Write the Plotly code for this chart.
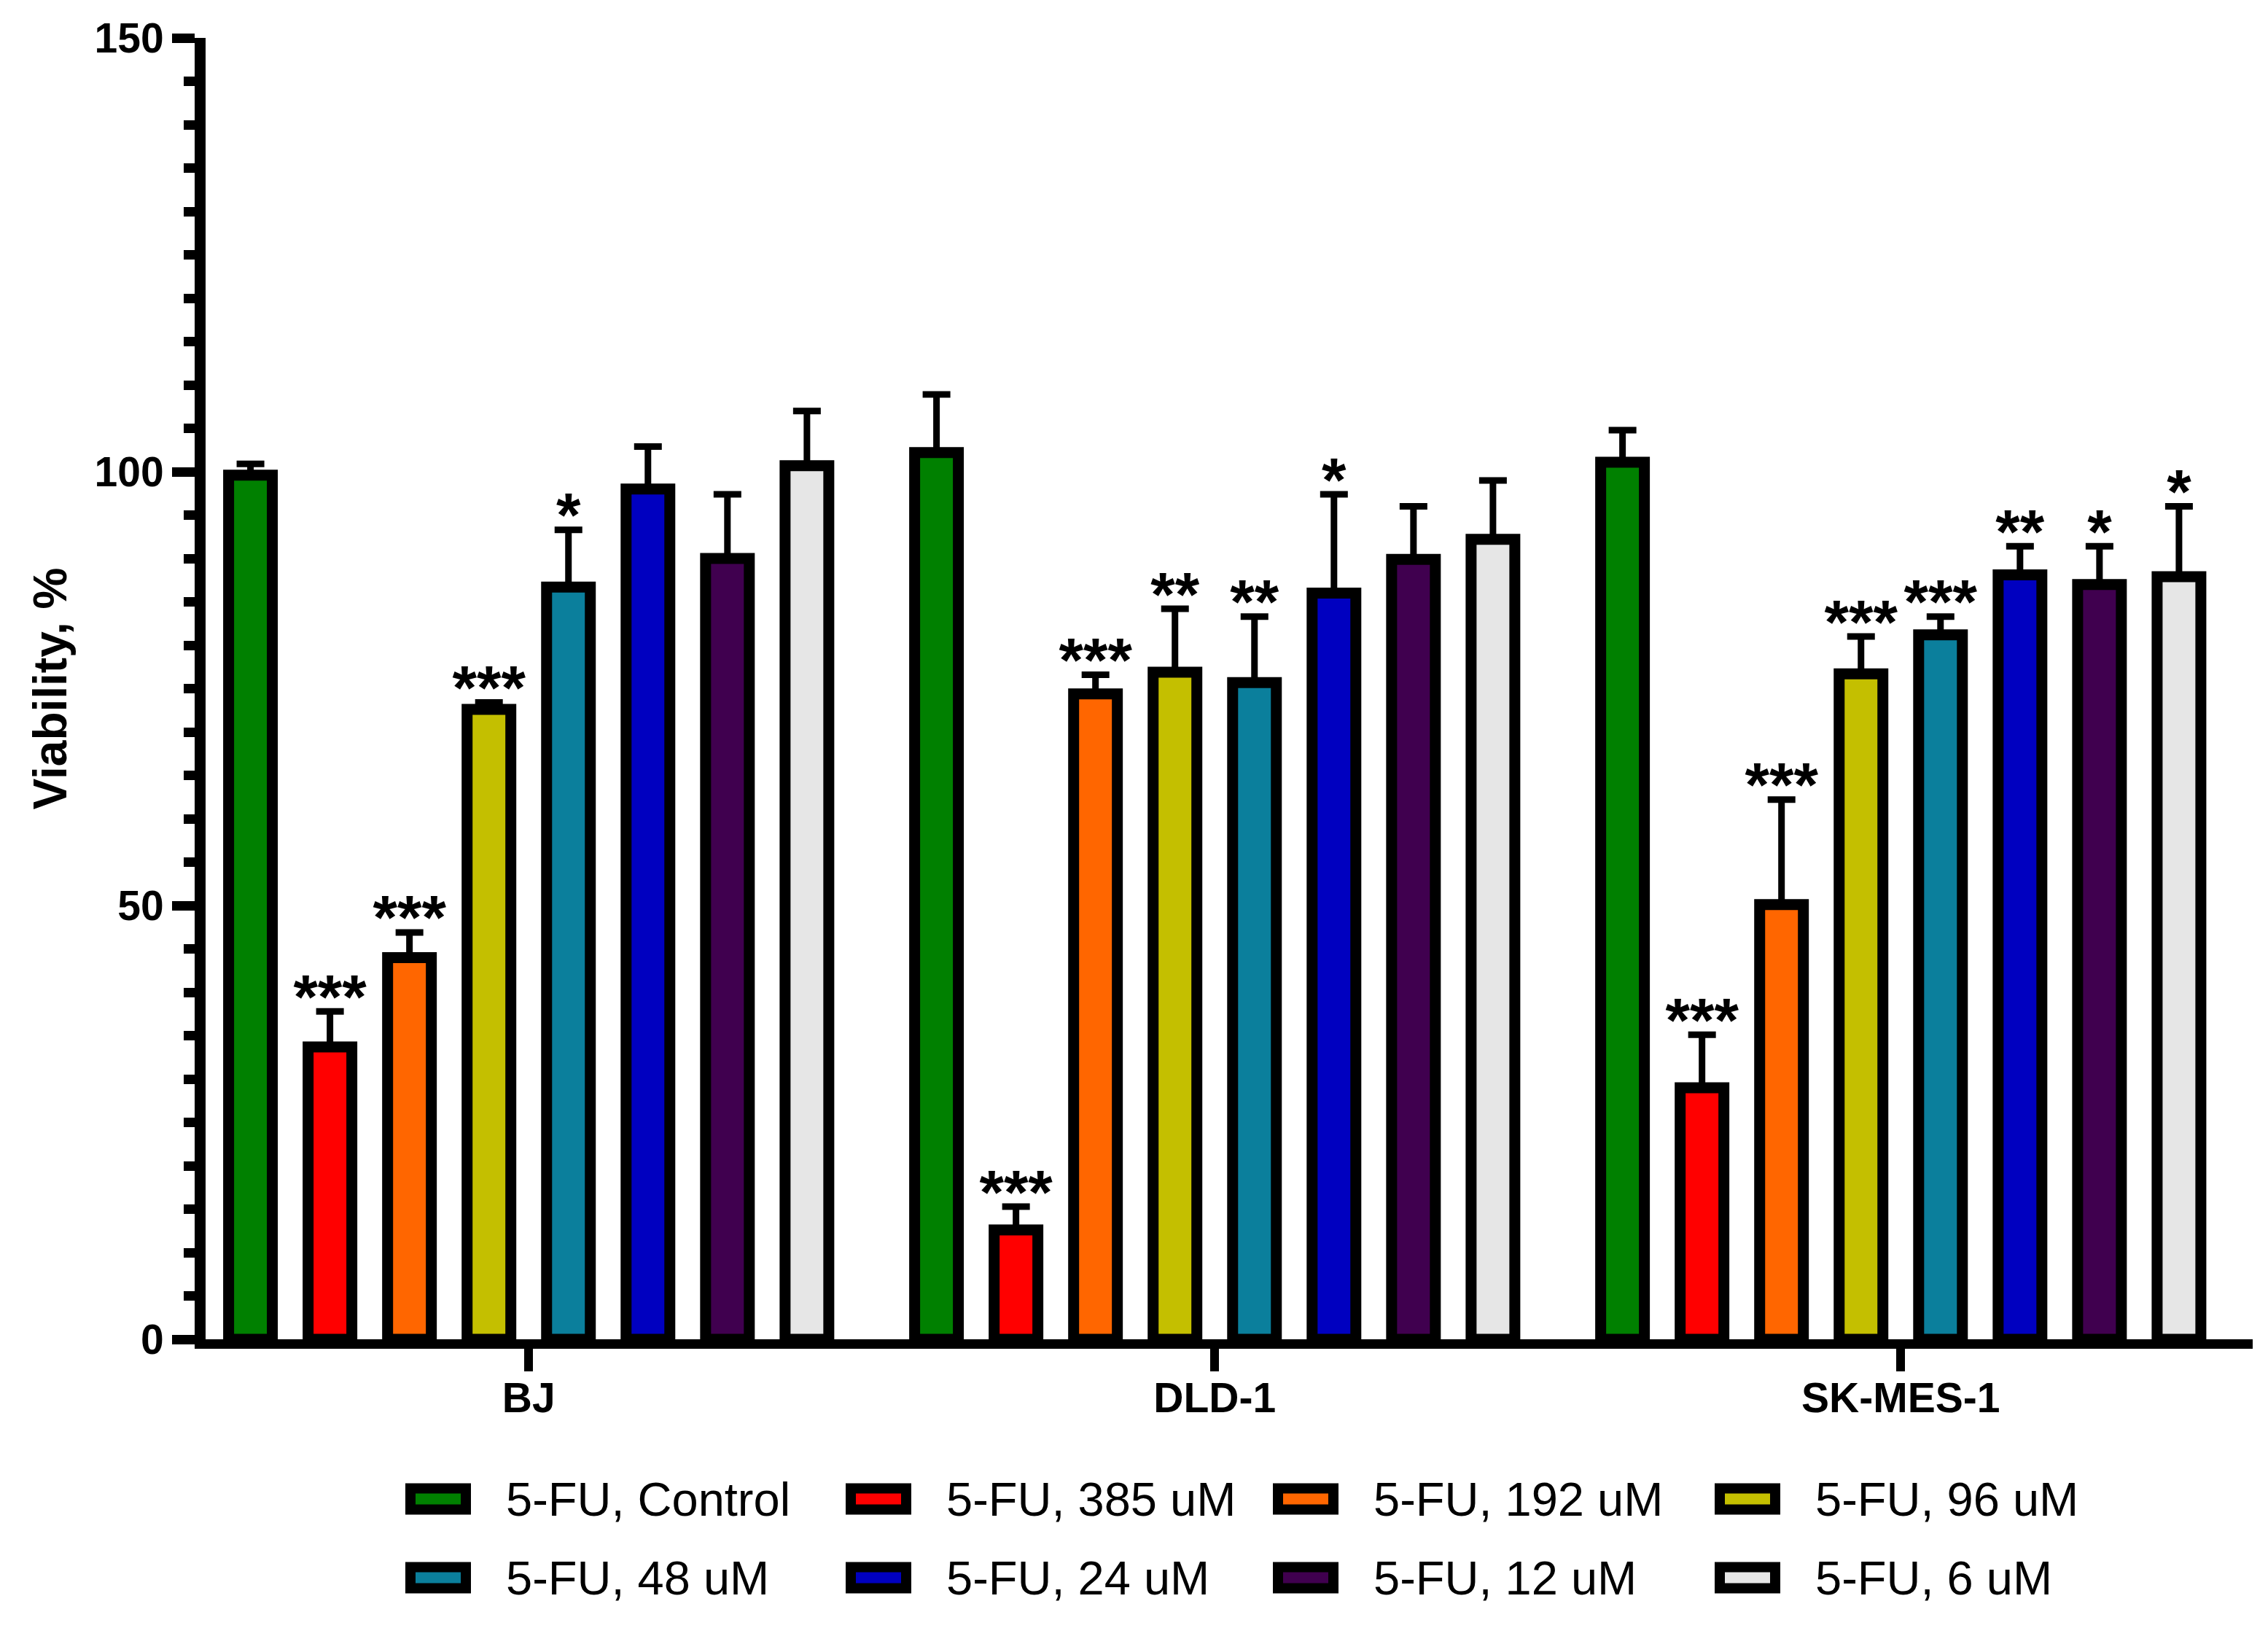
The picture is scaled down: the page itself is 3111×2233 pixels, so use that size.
import plotly.graph_objects as go

# ---- data ----
cell_lines = ["BJ", "DLD-1", "SK-MES-1"]

series_names = [
    "5-FU, Control", "5-FU, 385 uM", "5-FU, 192 uM", "5-FU, 96 uM",
    "5-FU, 48 uM", "5-FU, 24 uM", "5-FU, 12 uM", "5-FU, 6 uM",
]
series_colors = [
    "#008000", "#FF0000", "#FF6600", "#C4BF00",
    "#0B7F9C", "#0000C0", "#40004F", "#E6E6E6",
]

control = [99.6, 102.2, 101.1]
uM_385 = [33.7, 12.6, 29.0]
uM_192 = [44.0, 74.4, 50.1]
uM_96 = [72.6, 76.9, 76.7]
uM_48 = [86.7, 75.7, 81.2]
uM_24 = [98.0, 86.0, 88.1]
uM_12 = [90.0, 89.9, 87.0]
uM_6 = [100.7, 92.2, 87.9]

err_control = [1.3, 6.7, 3.7]
err_385 = [4.1, 2.7, 6.1]
err_192 = [2.9, 2.2, 12.1]
err_96 = [0.8, 7.3, 4.3]
err_48 = [6.6, 7.6, 2.1]
err_24 = [4.9, 11.4, 3.3]
err_12 = [7.4, 6.1, 4.4]
err_6 = [6.3, 6.8, 8.1]

stars_control = ["", "", ""]
stars_385 = ["***", "***", "***"]
stars_192 = ["***", "***", "***"]
stars_96 = ["***", "**", "***"]
stars_48 = ["*", "**", "***"]
stars_24 = ["", "*", "**"]
stars_12 = ["", "", "*"]
stars_6 = ["", "", "*"]

values = [control, uM_385, uM_192, uM_96, uM_48, uM_24, uM_12, uM_6]
errors = [err_control, err_385, err_192, err_96, err_48, err_24, err_12, err_6]
stars = [stars_control, stars_385, stars_192, stars_96,
         stars_48, stars_24, stars_12, stars_6]

# ---- page geometry (the page body adds an 8 px offset) ----
W, H = 3095, 2217
L, R, T, B = 274, 13, 44, 388
plot_w = W - L - R
plot_h = H - T - B
FONT = "Liberation Sans, Arial, sans-serif"
Y_RANGE = [0, 150]
STAR_LIFT = 1.0  # stars float a little above the error bar tips


def paper_x(px):
    return (px - L) / plot_w


def paper_y(py):
    return (H - B - py) / plot_h


fig = go.Figure()

for i, name in enumerate(series_names):
    fig.add_trace(go.Bar(
        x=cell_lines,
        y=values[i],
        name=name,
        offsetgroup=str(i),
        marker=dict(color=series_colors[i], line=dict(color="black", width=15)),
        error_y=dict(
            type="data", symmetric=False, array=errors[i],
            arrayminus=[0] * len(cell_lines),
            color="black", thickness=9, width=19,
        ),
        showlegend=False,
    ))

# significance marks, grouped like the bars and centred over the error bar tips
for i, name in enumerate(series_names):
    tips = [v + e for v, e in zip(values[i], errors[i])]
    fig.add_trace(go.Scatter(
        x=cell_lines,
        y=tips,
        yaxis="y2",
        offsetgroup=str(i),
        mode="text",
        text=stars[i],
        textposition="middle center",
        textfont=dict(family=FONT, size=86, color="black", weight="bold"),
        cliponaxis=False,
        hoverinfo="skip",
        showlegend=False,
    ))

# ---- legend drawn as swatches + labels, 2 rows x 4 columns ----
col_left = [548, 1152, 1738, 2344]
row_mid = [2048, 2156]
for i, name in enumerate(series_names):
    r, c = divmod(i, 4)
    cx = col_left[c] + 45
    fig.add_shape(
        type="rect", xref="paper", yref="paper",
        xsizemode="pixel", ysizemode="pixel",
        xanchor=paper_x(cx), yanchor=paper_y(row_mid[r]),
        x0=-38, x1=38, y0=-14.5, y1=14.5,
        fillcolor=series_colors[i], line=dict(color="black", width=14),
    )
    fig.add_annotation(
        x=paper_x(col_left[c] + 136), y=paper_y(row_mid[r]),
        xref="paper", yref="paper", xanchor="left", yanchor="middle",
        text=name, showarrow=False,
        font=dict(family=FONT, size=65, color="black"),
    )

fig.update_layout(
    width=W,
    height=H,
    margin=dict(l=L, r=R, t=T, b=B, pad=0),
    plot_bgcolor="white",
    paper_bgcolor="white",
    barmode="group",
    bargap=0.073,
    bargroupgap=0.45,
    scattermode="group",
    showlegend=False,
    font=dict(family=FONT, color="black"),
    yaxis2=dict(
        overlaying="y", visible=False,
        range=[Y_RANGE[0] - STAR_LIFT, Y_RANGE[1] - STAR_LIFT],
    ),
)

fig.update_xaxes(
    type="category",
    range=[-0.471, 2.513],
    showline=True, linecolor="black", linewidth=13,
    ticks="outside", ticklen=31, tickwidth=12, tickcolor="black",
    ticklabelstandoff=-12,
    tickfont=dict(family=FONT, size=57, color="black", weight="bold"),
    showgrid=False, zeroline=False, automargin=False,
)

fig.update_layout(yaxis=dict(
    range=Y_RANGE,
    tickvals=[0, 50, 100, 150],
    showline=True, linecolor="black", linewidth=15,
    ticks="outside", ticklen=31, tickwidth=13, tickcolor="black",
    minor=dict(dtick=5, ticks="outside", ticklen=15, tickwidth=13,
               tickcolor="black", showgrid=False),
    tickfont=dict(family=FONT, size=57, color="black", weight="bold"),
    title=dict(text="Viability, %", standoff=24,
               font=dict(family=FONT, size=64, color="black", weight="bold")),
    showgrid=False, zeroline=False, automargin=False,
))

fig.write_html("out.html")
